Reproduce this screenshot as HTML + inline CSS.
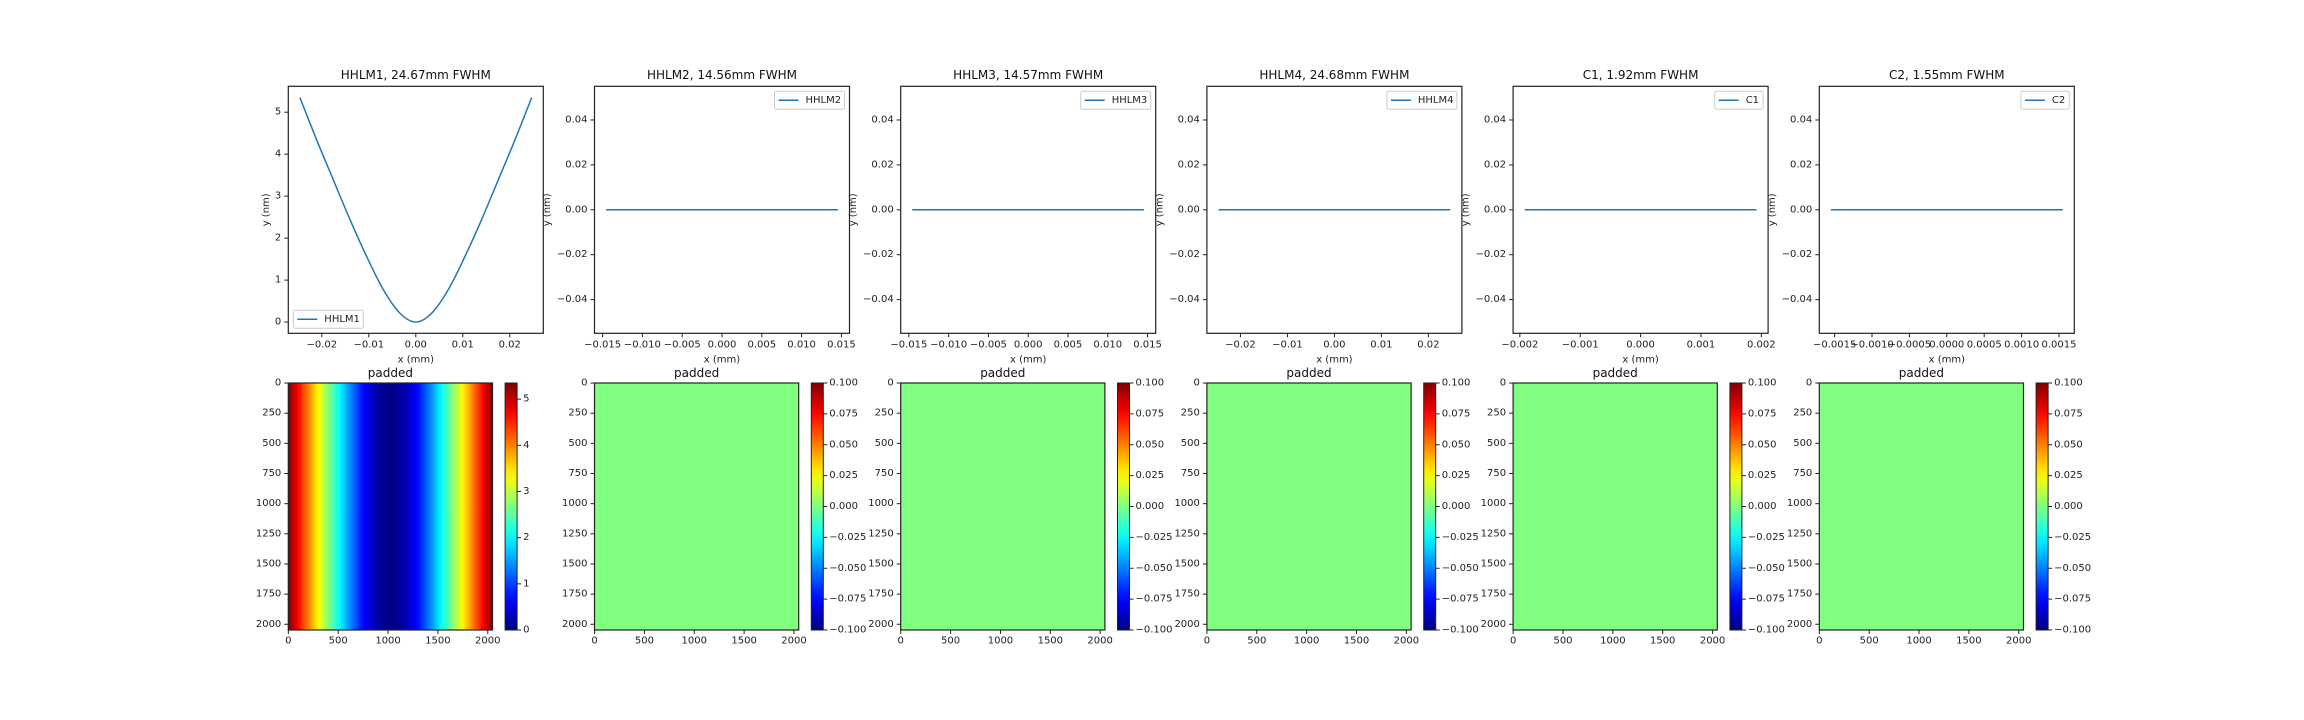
<!DOCTYPE html>
<html><head><meta charset="utf-8"><title>Mirror profiles</title>
<style>
html,body{margin:0;padding:0;background:#fff;}
svg{display:block;font-family:"DejaVu Sans","Liberation Sans",sans-serif;}
</style></head>
<body>
<svg id="fig" width="2304" height="720" viewBox="0 0 2304 720" xmlns="http://www.w3.org/2000/svg"></svg>
<script>
const titles = ["HHLM1, 24.67mm FWHM","HHLM2, 14.56mm FWHM","HHLM3, 14.57mm FWHM","HHLM4, 24.68mm FWHM","C1, 1.92mm FWHM","C2, 1.55mm FWHM"];
const seriesNames = ["HHLM1","HHLM2","HHLM3","HHLM4","C1","C2"];
const halfWidths = [0.02467,0.01456,0.01457,0.02468,0.00192,0.00155];
const profX1 = [-0.02467,-0.0211,-0.01756,-0.0140,-0.01045,-0.0069,-0.00336,0,0.00336,0.0069,0.01045,0.0140,0.01756,0.0211,0.02467];
const profY1 = [5.35,4.34,3.39,2.44,1.56,0.77,0.21,0,0.21,0.77,1.56,2.44,3.39,4.34,5.35];
const xTickVals = [[-0.02,-0.01,0,0.01,0.02],[-0.015,-0.01,-0.005,0,0.005,0.01,0.015],[-0.015,-0.01,-0.005,0,0.005,0.01,0.015],[-0.02,-0.01,0,0.01,0.02],[-0.002,-0.001,0,0.001,0.002],[-0.0015,-0.001,-0.0005,0,0.0005,0.001,0.0015]];
const xTickDec = [2,3,3,2,3,4];
const yTicks1 = [0,1,2,3,4,5];
const yTicksFlat = [-0.04,-0.02,0,0.02,0.04];
const imgTicks = [0,500,1000,1500,2000];
const imgYTicks = [0,250,500,750,1000,1250,1500,1750,2000];
const cbTicks1 = [0,1,2,3,4,5];
const cbTicksFlat = [-0.1,-0.075,-0.05,-0.025,0,0.025,0.05,0.075,0.1];

const NS="http://www.w3.org/2000/svg";
const svg=document.getElementById('fig');
function el(tag,attrs,parent){const e=document.createElementNS(NS,tag);for(const k in attrs)e.setAttribute(k,attrs[k]);(parent||svg).appendChild(e);return e;}
function fmt(v,d){const s=Math.abs(v).toFixed(d);return (v<-1e-12?"\u2212":"")+s;}
function clip(v){return Math.max(0,Math.min(1,v));}
function jet(t){const r=clip(1.5-Math.abs(4*t-3)),g=clip(1.5-Math.abs(4*t-2)),b=clip(1.5-Math.abs(4*t-1));return `rgb(${Math.round(r*255)},${Math.round(g*255)},${Math.round(b*255)})`;}
function interp(xs,ys,x){if(x<=xs[0])return ys[0];for(let i=1;i<xs.length;i++){if(x<=xs[i]){const f=(x-xs[i-1])/(xs[i]-xs[i-1]);return ys[i-1]+f*(ys[i]-ys[i-1]);}}return ys[ys.length-1];}
const defs=el('defs',{});

const TOP=86.3,BOT=333.3,AW=255;
const ITOP=383,IH=247,IW=204.2;

for(let i=0;i<6;i++){
  const L=288.3+i*306.2;
  const g=el('g',{});
  
  
  const h=halfWidths[i];
  const x0=-1.1*h,x1=1.1*h;
  const xs=(i===0)?profX1:[-h,h];
  const ys=(i===0)?profY1:[0,0];
  let y0,y1;
  if(i===0){const mx=Math.max(...ys);y0=-0.05*mx;y1=mx*1.05;}else{y0=-0.055;y1=0.055;}
  const X=v=>L+(v-x0)/(x1-x0)*AW;
  const Y=v=>BOT-(v-y0)/(y1-y0)*(BOT-TOP);
  let d='';
  if(i===0){
    const pts=xs.map((x,k)=>[X(x),Y(ys[k])]);
    d='M'+pts[0][0]+','+pts[0][1];
    for(let k=0;k<pts.length-1;k++){
      const p0=pts[Math.max(0,k-1)],p1=pts[k],p2=pts[k+1],p3=pts[Math.min(pts.length-1,k+2)];
      const c1=[p1[0]+(p2[0]-p0[0])/6,p1[1]+(p2[1]-p0[1])/6],c2=[p2[0]-(p3[0]-p1[0])/6,p2[1]-(p3[1]-p1[1])/6];
      d+=`C${c1[0]},${c1[1]} ${c2[0]},${c2[1]} ${p2[0]},${p2[1]}`;
    }
  } else {
    d=xs.map((x,k)=>(k?'L':'M')+X(x)+','+Y(ys[k])).join('');
  }
  const line=el('path',{d:d,fill:'none',stroke:'#1f77b4','stroke-width':1.5},g);
  
  
  const frame=el('rect',{x:L,y:TOP,width:AW,height:BOT-TOP,fill:'none',stroke:'#222','stroke-width':1.2},g);
  
  
  xTickVals[i].forEach(v=>{
    const px=X(v);
    el('line',{x1:px,x2:px,y1:BOT,y2:BOT+4,stroke:'#222'},g);
    const t=el('text',{x:px,y:345,'font-size':10,'text-anchor':'middle','dominant-baseline':'central',fill:'#222'},g);
    t.textContent=fmt(v,xTickDec[i]);
    
    
  });
  const yt=(i===0)?yTicks1:yTicksFlat;
  yt.forEach(v=>{
    const py=Y(v);
    el('line',{x1:L-4,x2:L,y1:py,y2:py,stroke:'#222'},g);
    const t=el('text',{x:L-7,y:py,'font-size':10,'text-anchor':'end','dominant-baseline':'central',fill:'#222'},g);
    t.textContent=(i===0)?String(v):fmt(v,2);
    
    
  });
  const xl=el('text',{x:L+AW/2,y:360,'font-size':10,'text-anchor':'middle','dominant-baseline':'central',fill:'#222'},g);
  xl.textContent='x (mm)';
  
  
  const ylx=(i===0)?L-22:L-47;
  const yl=el('text',{x:ylx,y:(TOP+BOT)/2,'font-size':10,'text-anchor':'middle','dominant-baseline':'central',fill:'#222',transform:`rotate(-90 ${ylx} ${(TOP+BOT)/2})`},g);
  yl.textContent='y (nm)';
  
  
  const tt=el('text',{x:L+AW/2,y:75,'font-size':12,'text-anchor':'middle','dominant-baseline':'central',fill:'#111'},g);
  tt.textContent=titles[i];
  
  
  const name=seriesNames[i];
  const lw=34+name.length*7.2;
  const lx=(i===0)?L+5:L+AW-5-lw;
  const ly=(i===0)?BOT-5-18:TOP+5;
  const lg=el('g',{},g);
  
  
  el('rect',{x:lx,y:ly,width:lw,height:18,rx:2,fill:'#fff',stroke:'#ccc','stroke-width':1},lg);
  el('line',{x1:lx+4,x2:lx+24,y1:ly+9,y2:ly+9,stroke:'#1f77b4','stroke-width':1.5},lg);
  const lt=el('text',{x:lx+31,y:ly+9,'font-size':10,'dominant-baseline':'central',fill:'#222'},lg);
  lt.textContent=name;

  const bg=el('g',{});
  
  
  let vmin,vmax;
  if(i===0){vmin=Math.min(...ys);vmax=Math.max(...ys);}else{vmin=-0.1;vmax=0.1;}
  const gid='hg'+i;
  const lgd=el('linearGradient',{id:gid,x1:0,x2:1,y1:0,y2:0},defs);
  const N=80;
  for(let k=0;k<=N;k++){
    const f=k/N;
    const xv=-h+2*h*f;
    const val=interp(xs,ys,xv);
    el('stop',{offset:f,'stop-color':jet((val-vmin)/(vmax-vmin))},lgd);
  }
  const hm=el('rect',{x:L,y:ITOP,width:IW,height:IH,fill:`url(#${gid})`,stroke:'#222','stroke-width':1.2},bg);
  
  
  const IX=v=>L+(v+0.5)/2048*IW, IY=v=>ITOP+(v+0.5)/2048*IH;
  imgTicks.forEach(v=>{
    const px=IX(v);
    el('line',{x1:px,x2:px,y1:ITOP+IH,y2:ITOP+IH+4,stroke:'#222'},bg);
    const t=el('text',{x:px,y:641,'font-size':10,'text-anchor':'middle','dominant-baseline':'central',fill:'#222'},bg);
    t.textContent=String(v);
  });
  imgYTicks.forEach(v=>{
    const py=IY(v);
    el('line',{x1:L-4,x2:L,y1:py,y2:py,stroke:'#222'},bg);
    const t=el('text',{x:L-7,y:py,'font-size':10,'text-anchor':'end','dominant-baseline':'central',fill:'#222'},bg);
    t.textContent=String(v);
  });
  const pt=el('text',{x:L+IW/2,y:373,'font-size':12,'text-anchor':'middle','dominant-baseline':'central',fill:'#111'},bg);
  pt.textContent='padded';
  
  
  const cx=L+216.8,cw=12;
  const cid='cg'+i;
  const cgd=el('linearGradient',{id:cid,x1:0,x2:0,y1:1,y2:0},defs);
  for(let k=0;k<=20;k++){el('stop',{offset:k/20,'stop-color':jet(k/20)},cgd);}
  const cb=el('rect',{x:cx,y:ITOP,width:cw,height:IH,fill:`url(#${cid})`,stroke:'#222','stroke-width':1},bg);
  
  
  const ct=(i===0)?cbTicks1:cbTicksFlat;
  ct.forEach(v=>{
    const py=ITOP+IH-(v-vmin)/(vmax-vmin)*IH;
    el('line',{x1:cx+cw,x2:cx+cw+4,y1:py,y2:py,stroke:'#222'},bg);
    const t=el('text',{x:cx+cw+6,y:py,'font-size':10,'dominant-baseline':'central',fill:'#222'},bg);
    t.textContent=(i===0)?String(v):fmt(v,3);
    
    
  });
}
</script>
</body></html>
